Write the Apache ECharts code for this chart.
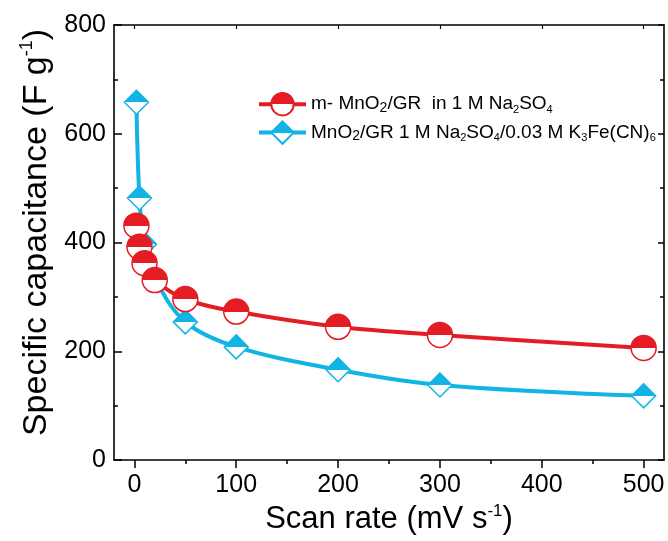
<!DOCTYPE html>
<html>
<head>
<meta charset="utf-8">
<script src="https://cdn.jsdelivr.net/npm/echarts@6/dist/echarts.min.js"></script>
<style>html,body{margin:0;padding:0;background:#fff}#c{width:668px;height:541px}</style>
</head>
<body>
<div id="c"></div>
<script>
// ---- data ----
const scanRates = [2, 5, 10, 20, 50, 100, 200, 300, 500];
const capNa2SO4 = [431, 392, 362, 331, 296, 273, 245, 230, 206];
const capFeCN = [658, 482, 397, 335, 254, 208, 166, 138, 118];
const xMajorTicks = [0, 100, 200, 300, 400, 500];
const xMinorTicks = [50, 150, 250, 350, 450];
const seriesNames = ['red', 'blue'];

const RED = '#e41d25';
const BLUE = '#12b4e4';
const FONT = '"Liberation Sans", Arial, sans-serif';

function halfFill(c) {
  return {
    type: 'linear', x: 0, y: 0, x2: 0, y2: 1,
    colorStops: [
      { offset: 0, color: c }, { offset: 0.5, color: c },
      { offset: 0.5, color: '#ffffff' }, { offset: 1, color: '#ffffff' }
    ]
  };
}
function pairs(xs, ys) { return xs.map((x, i) => [x, ys[i]]); }

const legendText = {
  red: '{n|m- MnO}{sub|2}{n|/GR  in 1 M Na}{s|2}{n|SO}{s|4}',
  blue: '{n|MnO}{sub|2}{n|/GR 1 M Na}{s|2}{n|SO}{s|4}{n|/0.03 M K}{s|3}{n|Fe(CN)}{s|6}'
};

const chart = echarts.init(document.getElementById('c'));
const axisLine = { show: true, onZero: false, lineStyle: { color: '#000', width: 1.6 } };

chart.setOption({
  animation: false,
  textStyle: { fontFamily: FONT },
  grid: { left: 114, right: 4, top: 25, bottom: 81, containLabel: false },
  legend: {
    data: seriesNames,
    orient: 'vertical',
    left: 252, top: 87,
    itemWidth: 47, itemHeight: 28, itemGap: 4,
    lineStyle: { width: 4 },
    formatter: n => legendText[n],
    textStyle: {
      color: '#000', fontFamily: FONT,
      rich: {
        n: { fontSize: 19, lineHeight: 22, color: '#000', fontFamily: FONT },
        sub: { fontSize: 14, lineHeight: 8, verticalAlign: 'bottom', color: '#000', fontFamily: FONT },
        s: { fontSize: 11, lineHeight: 16, verticalAlign: 'bottom', color: '#000', fontFamily: FONT }
      }
    }
  },
  xAxis: [
    {
      type: 'value', position: 'bottom', min: -20, max: 520,
      axisLine: axisLine,
      axisTick: { show: true, inside: false, length: 8, customValues: xMajorTicks, lineStyle: { color: '#000', width: 1.5 } },
      axisLabel: { show: true, customValues: xMajorTicks, fontSize: 25, color: '#000', margin: 13, fontFamily: FONT },
      splitLine: { show: false },
      name: '{b|Scan rate (mV s}{sup|-1}{b|)}',
      nameLocation: 'middle', nameGap: 28,
      nameTextStyle: {
        rich: {
          b: { fontSize: 31, lineHeight: 34, color: '#000', fontFamily: FONT },
          sup: { fontSize: 17, lineHeight: 18, verticalAlign: 'top', color: '#000', fontFamily: FONT }
        }
      }
    },
    {
      type: 'value', position: 'bottom', min: -20, max: 520,
      axisLine: { show: false, onZero: false },
      axisTick: { show: true, inside: false, length: 4, customValues: xMinorTicks, lineStyle: { color: '#000', width: 1.5 } },
      axisLabel: { show: false },
      splitLine: { show: false }
    },
    {
      type: 'value', position: 'top', min: -20, max: 520,
      axisLine: axisLine,
      axisTick: { show: true, inside: true, length: 4, customValues: xMajorTicks, lineStyle: { color: '#000', width: 1.2 } },
      axisLabel: { show: false },
      splitLine: { show: false }
    }
  ],
  yAxis: [
    {
      type: 'value', position: 'left', min: 0, max: 800, interval: 200,
      axisLine: axisLine,
      axisTick: { show: true, inside: true, length: 8, lineStyle: { color: '#000', width: 1.5 } },
      minorTick: { show: true, splitNumber: 2, length: 4, lineStyle: { color: '#000', width: 1.5 } },
      axisLabel: { fontSize: 25, color: '#000', margin: 8, fontFamily: FONT },
      splitLine: { show: false },
      name: '{b|Specific capacitance (F g}{sup|-1}{b|)}',
      nameLocation: 'middle', nameGap: 58, nameRotate: 90,
      nameTextStyle: {
        padding: [0, 0, 0, 20],
        rich: {
          b: { fontSize: 34, lineHeight: 36, color: '#000', fontFamily: FONT },
          sup: { fontSize: 18, lineHeight: 18, verticalAlign: 'top', color: '#000', fontFamily: FONT }
        }
      }
    },
    {
      type: 'value', position: 'right', min: 0, max: 800, interval: 200,
      axisLine: axisLine,
      axisTick: { show: true, inside: true, length: 6, lineStyle: { color: '#000', width: 1.5 } },
      minorTick: { show: true, splitNumber: 2, length: 4, lineStyle: { color: '#000', width: 1.5 } },
      axisLabel: { show: false },
      splitLine: { show: false }
    }
  ],
  series: [
    {
      name: 'blue', type: 'line', xAxisIndex: 0, yAxisIndex: 0,
      data: pairs(scanRates, capFeCN),
      smooth: 0.35,
      symbol: 'diamond', symbolSize: 24, showSymbol: true,
      lineStyle: { color: BLUE, width: 4 },
      itemStyle: { color: halfFill(BLUE), borderColor: BLUE, borderWidth: 1.5 },
      z: 2
    },
    {
      name: 'red', type: 'line', xAxisIndex: 0, yAxisIndex: 0,
      data: pairs(scanRates, capNa2SO4),
      smooth: 0.35,
      symbol: 'circle', symbolSize: 25, showSymbol: true,
      lineStyle: { color: RED, width: 4 },
      itemStyle: { color: halfFill(RED), borderColor: RED, borderWidth: 1.5 },
      z: 3
    }
  ]
});
</script>
</body>
</html>
